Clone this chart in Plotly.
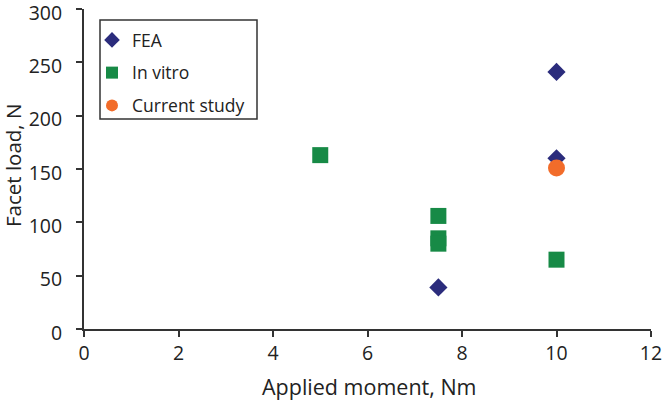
import plotly.graph_objects as go

fea_x = [10, 10, 7.5]
fea_y = [241, 160, 39]
vitro_x = [5, 7.5, 7.5, 7.5, 10]
vitro_y = [163, 106, 85, 80, 65]
cur_x = [10]
cur_y = [151]

FONT = "Open Sans, Liberation Sans, sans-serif"
TXT = "#222222"
fig = go.Figure()
fig.add_trace(go.Scatter(x=fea_x, y=fea_y, mode="markers", name="FEA", legendgroup="a",
                         marker=dict(symbol="diamond", size=14, color="#2B2C7C")))
fig.add_trace(go.Scatter(x=vitro_x, y=vitro_y, mode="markers", name="In vitro", legendgroup="b",
                         marker=dict(symbol="square", size=16, color="#178A46")))
fig.add_trace(go.Scatter(x=cur_x, y=cur_y, mode="markers", name="Current study", legendgroup="c",
                         marker=dict(symbol="circle", size=17, color="#F26C2A")))

axis_common = dict(showgrid=False, zeroline=False, showline=True, linecolor="#333333", linewidth=2,
                   ticks="outside", ticklen=6, tickwidth=1.5, tickcolor="#333333",
                   ticklabeloverflow="allow", automargin=False,
                   tickfont=dict(size=19.5, color=TXT, family=FONT))
fig.update_xaxes(range=[0, 12], dtick=2, tick0=0, **axis_common)
fig.update_yaxes(range=[0, 300], dtick=50, tick0=0, ticklabelshift=4, ticklabelstandoff=10,
                 **axis_common)

L, R, T, B = 84, 11, 9, 72
W, H = 662, 401
pw, ph = W - L - R, H - T - B
def px(x): return (x - L) / pw
def py(y): return (H - B - y) / ph

fig.add_annotation(text="Applied moment, Nm", xref="paper", yref="paper",
                   x=px(369), y=py(386.5), xanchor="center", yanchor="middle", showarrow=False,
                   font=dict(size=21.5, color=TXT, family=FONT))
fig.add_annotation(text="Facet load, N", xref="paper", yref="paper", textangle=-90,
                   x=px(13), y=py(166), xanchor="center", yanchor="middle", showarrow=False,
                   font=dict(size=20.5, color=TXT, family=FONT))

fig.add_shape(type="rect", xref="paper", yref="paper",
              x0=px(100), x1=px(257), y0=py(119), y1=py(20),
              line=dict(color="#333333", width=1.5), fillcolor="rgba(0,0,0,0)", layer="above")
fig.update_layout(
    width=W, height=H,
    margin=dict(l=L, r=R, t=T, b=B),
    plot_bgcolor="white", paper_bgcolor="white",
    legend=dict(x=px(92), y=py(22), xanchor="left", yanchor="top",
                borderwidth=0, bgcolor="rgba(0,0,0,0)", itemsizing="constant",
                traceorder="grouped", tracegroupgap=7,
                font=dict(size=17.5, color=TXT, family=FONT)),
    showlegend=True,
)
fig.write_html("out.html", config={"displayModeBar": False},
               post_script="document.body.style.margin='0';")
